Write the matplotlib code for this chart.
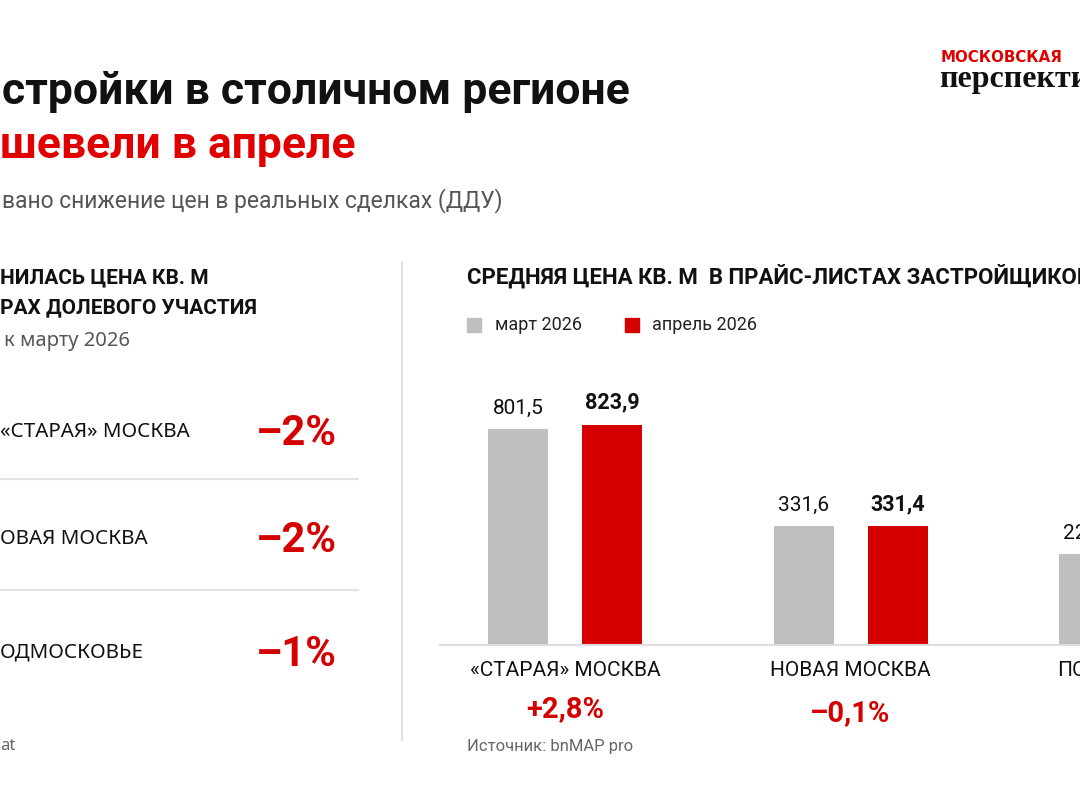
import numpy as np
import matplotlib
matplotlib.use("Agg")
import matplotlib.pyplot as plt

# ---- data ----
regions = ["«СТАРАЯ» МОСКВА", "НОВАЯ МОСКВА", "ПОДМОСКОВЬЕ"]
price_march = [801.5, 331.6, 225.0]
price_april = [823.9, 331.4, 226.0]
price_change = ["+2,8%", "–0,1%", "+0,4%"]
march_labels = ["801,5", "331,6", "225,0"]
april_labels = ["823,9", "331,4", "226,0"]

ddu_regions = ["«СТАРАЯ» МОСКВА", "ОВАЯ МОСКВА", "ОДМОСКОВЬЕ"]
ddu_change = ["–2%", "–2%", "–1%"]

RED = "#d50000"
GRAY = "#bfbfbf"
W, H = 1080, 810

plt.rcParams['font.family'] = ['Roboto', 'DejaVu Sans']
fig = plt.figure(figsize=(10.8, 8.1), dpi=100)
fig.patch.set_facecolor("white")


def px(x, y):
    "pixel coords (from top-left) -> figure fraction"
    return x / W, 1 - y / H


# ---- title block ----
fig.text(*px(2, 92), "стройки в столичном регионе", fontsize=32, weight="bold",
         color="#111111", va="center")
fig.text(*px(0, 146), "шевели в апреле", fontsize=32, weight="bold",
         color="#e00000", va="center")
fig.text(*px(2, 201), "вано снижение цен в реальных сделках (ДДУ)", fontsize=16.5,
         color="#555555", va="center")

# logo
fig.text(*px(941, 58), "МОСКОВСКАЯ", fontsize=10.8, weight="bold", color="#e00000",
         va="center", family="DejaVu Sans")
fig.text(*px(939, 79), "перспектива", fontsize=23, weight="bold", color="#111111",
         va="center", family="Liberation Serif")

# ---- left panel ----
fig.text(*px(0, 278), "НИЛАСЬ ЦЕНА КВ. М", fontsize=15, weight="bold",
         color="#111111", va="center")
fig.text(*px(0, 308), "РАХ ДОЛЕВОГО УЧАСТИЯ", fontsize=15, weight="bold",
         color="#111111", va="center")
fig.text(*px(4, 341), "к марту 2026", fontsize=14.5, color="#555555",
         va="center", family="Noto Sans")

row_y = [432, 539, 652]
for name, val, y in zip(ddu_regions, ddu_change, row_y):
    fig.text(*px(0, y), name, fontsize=14.8, color="#111111", va="center",
             family="Noto Sans")
    fig.text(*px(296, y + 2), val, fontsize=30, weight="bold", color=RED,
             va="center", ha="center")
for y in [479, 590]:
    fig.add_artist(plt.Line2D([0, 358 / W], [1 - y / H] * 2, color="#e3e3e3", lw=1.5))
fig.text(*px(0, 746), "at", fontsize=12, color="#666666", va="center",
         family="Noto Sans")

# divider
fig.add_artist(plt.Line2D([402 / W] * 2, [1 - 263 / H, 1 - 740 / H],
                          color="#e0e0e0", lw=1.5))

# ---- right panel ----
fig.text(*px(467, 276), "СРЕДНЯЯ ЦЕНА КВ. М  В ПРАЙС-ЛИСТАХ ЗАСТРОЙЩИКОВ",
         fontsize=16, weight="bold", color="#111111", va="center")
fig.add_artist(plt.Rectangle(px(467, 332), 14 / W, 14 / H, color=GRAY))
fig.text(*px(495, 325), "март 2026", fontsize=13, color="#222222", va="center")
fig.add_artist(plt.Rectangle(px(625, 332), 14 / W, 14 / H, color=RED))
fig.text(*px(652, 325), "апрель 2026", fontsize=13, color="#222222", va="center")

# bar axes extends past the right edge (picture is cropped)
ax_left, ax_right = 440, 1440
ax_bottom, ax_top = 645, 380
ax = fig.add_axes([ax_left / W, 1 - ax_bottom / H,
                   (ax_right - ax_left) / W, (ax_bottom - ax_top) / H])
ax.patch.set_alpha(0)

p = 0.68
ax.set_yscale("function", functions=(lambda v: np.power(np.clip(v, 0, None), p),
                                     lambda v: np.power(np.clip(v, 0, None), 1 / p)))
group_px = 285.5
x = np.arange(len(regions))
x0 = -(565 - ax_left) / group_px
ax.set_xlim(x0, x0 + (ax_right - ax_left) / group_px)
ax.set_ylim(0, 1082)

bw = 60 / group_px
off = 47 / group_px
ax.bar(x - off, price_march, bw, color=GRAY)
ax.bar(x + off, price_april, bw, color=RED)

for i in x:
    ax.annotate(march_labels[i], (i - off, price_march[i]), xytext=(0, 8),
                textcoords="offset points", ha="center", va="bottom",
                fontsize=15, color="#111111")
    ax.annotate(april_labels[i], (i + off, price_april[i]), xytext=(0, 8),
                textcoords="offset points", ha="center", va="bottom",
                fontsize=15.5, weight="bold", color="#111111")
    ax.annotate(regions[i], (i, 0), xytext=(0, -18), textcoords="offset points",
                ha="center", va="center", fontsize=15, color="#111111")
    ax.annotate(price_change[i], (i, 0), xytext=(0, -46 - 3 * i), textcoords="offset points",
                ha="center", va="center", fontsize=21, weight="bold", color=RED)

for s in ["top", "right", "left"]:
    ax.spines[s].set_visible(False)
ax.spines["bottom"].set_color("#dddddd")
ax.spines["bottom"].set_linewidth(1.5)
ax.set_xticks([])
ax.set_yticks([])
ax.minorticks_off()

fig.text(*px(467, 746), "Источник: bnMAP pro", fontsize=12, color="#666666",
         va="center")

fig.savefig("out.png", dpi=100, facecolor="white")
